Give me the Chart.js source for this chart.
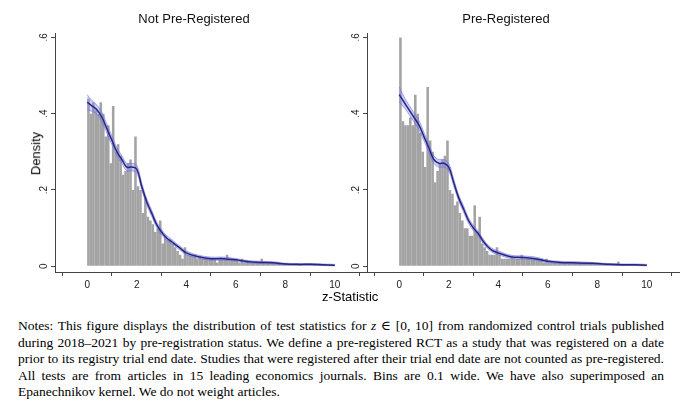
<!DOCTYPE html>
<html><head><meta charset="utf-8">
<script src="https://cdn.jsdelivr.net/npm/chart.js@4"></script>
<style>
body{margin:0;width:680px;height:410px;background:#fff;position:relative;overflow:hidden;font-family:Arial,"Liberation Sans",sans-serif}
canvas{position:absolute}
#dens{position:absolute;left:14px;top:146px;transform:rotate(-90deg);font-size:13px}
#zs{position:absolute;left:322px;top:289px;font-size:13px}
#notes{position:absolute;left:18px;top:318px;width:646px;font-family:"Liberation Serif","DejaVu Serif",serif;font-size:13.5px;line-height:16.6px;text-align:justify;text-align-last:left}
</style></head><body>
<canvas id="c1" style="left:21px;top:8px"></canvas>
<canvas id="c2" style="left:333px;top:8px"></canvas>
<div id="dens">Density</div>
<div id="zs">z-Statistic</div>
<div id="notes">Notes: This figure displays the distribution of test statistics for <i>z</i> ∈ [0, 10] from randomized control trials published during 2018–2021 by pre-registration status. We define a pre-registered RCT as a study that was registered on a date prior to its registry trial end date. Studies that were registered after their trial end date are not counted as pre-registered. All tests are from articles in 15 leading economics journals. Bins are 0.1 wide. We have also superimposed an Epanechnikov kernel. We do not weight articles.</div>
<script>
const titles=["Not Pre-Registered","Pre-Registered"];
const xTicks=[0,2,4,6,8,10];
const yTicks=[0,0.2,0.4,0.6];
const yTickLabels=["0",".2",".4",".6"];
const histNot=[0.44,0.40,0.43,0.41,0.40,0.43,0.40,0.34,0.37,0.27,0.42,0.30,0.32,0.29,0.24,0.25,0.27,0.28,0.20,0.34,
0.21,0.20,0.14,0.18,0.13,0.12,0.11,0.09,0.10,0.12,0.06,0.08,0.07,0.07,0.06,0.05,0.04,0.03,0.02,0.05,
0.03,0.03,0.03,0.03,0.02,0.025,0.02,0.02,0.02,0.02,0.02,0.02,0.01,0.02,0.02,0.02,0.03,0.02,0.02,0.02,
0.02,0.01,0.02,0.01,0.015,0.01,0.01,0.01,0.01,0.01,0.02,0.01,0.01,0.01,0.01,0.01,0.01,0.01,0.008,0.008,
0.008,0.006,0.006,0.005,0.006,0.005,0.006,0.005,0.006,0.005,0.006,0.005,0.005,0.005,0.004,0.005,0.004,0.004,0.004,0.003];
const histPre=[0.60,0.38,0.37,0.37,0.39,0.37,0.45,0.40,0.35,0.30,0.26,0.47,0.33,0.30,0.22,0.25,0.27,0.28,0.29,0.33,
0.20,0.19,0.16,0.17,0.14,0.12,0.10,0.10,0.08,0.08,0.16,0.09,0.13,0.06,0.05,0.04,0.03,0.03,0.03,0.05,
0.03,0.02,0.02,0.02,0.02,0.025,0.02,0.02,0.02,0.03,0.02,0.02,0.02,0.02,0.02,0.02,0.02,0.02,0.01,0.02,
0.01,0.01,0.01,0.01,0.01,0.01,0.01,0.01,0.01,0.01,0.01,0.01,0.01,0.01,0.01,0.01,0.01,0.01,0.008,0.008,
0.008,0.006,0.006,0.006,0.006,0.006,0.005,0.006,0.012,0.005,0.005,0.004,0.004,0.004,0.005,0.004,0.004,0.004,0.003,0.003];
const kernX=[0,0.2,0.4,0.6,0.8,1.0,1.2,1.4,1.6,1.8,2.0,2.2,2.4,2.6,2.8,3.0,3.2,3.4,3.6,3.8,4.0,4.5,5,5.5,6,6.5,7,7.5,8,8.5,9,9.5,10];
const kernNot=[0.43,0.42,0.41,0.39,0.36,0.33,0.30,0.28,0.26,0.26,0.255,0.21,0.17,0.14,0.11,0.09,0.075,0.065,0.055,0.045,0.035,0.025,0.02,0.02,0.017,0.012,0.01,0.009,0.006,0.005,0.005,0.004,0.003];
const kernPre=[0.45,0.43,0.41,0.39,0.37,0.34,0.31,0.28,0.27,0.27,0.26,0.22,0.18,0.15,0.12,0.10,0.085,0.065,0.05,0.04,0.035,0.025,0.023,0.02,0.013,0.01,0.009,0.008,0.007,0.005,0.004,0.004,0.003];
const bandHalf=[0.02,0.014,0.012,0.012,0.012,0.011,0.011,0.01,0.01,0.01,0.01,0.009,0.008,0.008,0.007,0.007,0.006,0.006,0.005,0.005,0.005,0.004,0.004,0.004,0.003,0.003,0.003,0.003,0.002,0.002,0.002,0.002,0.002];

const yLabPlugin={id:'ylab',afterDraw(ch){const s=ch.scales.y,c=ch.ctx;c.save();c.font='10px Arial';c.fillStyle='#222';c.textAlign='center';c.textBaseline='bottom';
 yTicks.forEach((v,i)=>{const y=s.getPixelForValue(v);c.save();c.translate(s.right-6,y);c.rotate(-Math.PI/2);c.fillText(yTickLabels[i],0,0);c.restore();});c.restore();}};

function make(id,title,hist,kern){
 const bars=hist.map((v,i)=>({x:i*0.1+0.05,y:v}));
 const k=kernX.map((x,i)=>({x,y:kern[i]}));
 const up=kernX.map((x,i)=>({x,y:kern[i]+bandHalf[i]}));
 const lo=kernX.map((x,i)=>({x,y:Math.max(0,kern[i]-bandHalf[i])}));
 const el=document.getElementById(id);el.width=352;el.height=286;
 new Chart(el,{data:{datasets:[
  {type:'line',data:up,borderColor:'rgba(110,110,235,0.6)',borderWidth:1,pointRadius:0,tension:0.4,fill:false,order:1},
  {type:'line',data:lo,borderColor:'rgba(110,110,235,0.6)',borderWidth:1,pointRadius:0,tension:0.4,fill:'-1',backgroundColor:'rgba(130,130,240,0.4)',order:1},
  {type:'line',data:k,borderColor:'#26267a',borderWidth:1.5,pointRadius:0,tension:0.4,fill:false,order:0},
  {type:'bar',data:bars,backgroundColor:'#a3a3a3',barPercentage:1.04,categoryPercentage:1,order:2}
 ]},
 options:{responsive:false,animation:false,layout:{padding:{top:0,right:6,left:0,bottom:0}},
  plugins:{legend:{display:false},tooltip:{enabled:false},title:{display:true,text:title,color:'#111',font:{size:13,weight:'normal',family:'Arial'},padding:{top:4,bottom:6}}},
  scales:{
   x:{type:'linear',min:-0.25,max:10.25,afterBuildTicks:s=>{s.ticks=xTicks.map(v=>({value:v}))},
      ticks:{color:'#222',font:{size:10,family:'Arial'},maxRotation:0,callback:v=>String(v)},
      grid:{display:true,drawOnChartArea:false,tickLength:4,color:'#444'},border:{display:true,color:'#444'}},
   y:{min:-0.015,max:0.61,afterBuildTicks:s=>{s.ticks=yTicks.map(v=>({value:v}))},afterFit:s=>{s.width=34},
      ticks:{display:false},grid:{display:true,drawOnChartArea:false,tickLength:4,color:'#444'},border:{display:true,color:'#444'}}
  }},plugins:[yLabPlugin]});
}
make('c1',titles[0],histNot,kernNot);
make('c2',titles[1],histPre,kernPre);
</script></body></html>
